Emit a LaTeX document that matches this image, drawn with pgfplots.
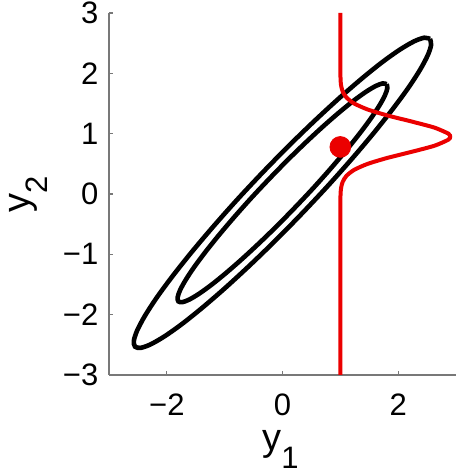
\documentclass[border=0pt]{standalone}
\usepackage{fontspec}
\setmainfont{Liberation Sans}
\usepackage{pgfplots}
\pgfplotsset{compat=1.18}
\definecolor{axgray}{RGB}{120,120,120}
\definecolor{condred}{RGB}{235,0,0}
\newcommand{\lab}[2]{{\fontsize{19}{22}\selectfont #1\raisebox{-9pt}{\fontsize{15.5}{18}\selectfont #2}}}

\begin{document}
\fontsize{15.5}{18}\selectfont
\begin{tikzpicture}
\begin{axis}[
  scale only axis,
  width=173.5pt, height=181pt,
  xmin=-3, xmax=3, ymin=-3, ymax=3,
  axis x line*=bottom, axis y line*=left,
  axis line style={axgray, line width=0.75pt, -},
  xtick={-2,0,2}, xticklabels={−2,0,2},
  ytick={-3,-2,-1,0,1,2,3}, yticklabels={−3,−2,−1,0,1,2,3},
  tick style={axgray, line width=0.6pt},
  tick align=inside, major tick length=2pt,
  xticklabel style={yshift=-4pt},
  clip=false,
  xlabel={\lab{y}{1}},
  ylabel={\lab{y}{2}},
  xlabel style={at={(axis description cs:0.494,-0.152)}, anchor=north, inner sep=0pt},
  ylabel style={at={(axis description cs:-0.231,0.5)}, anchor=center, inner sep=0pt},
]
  % outer contour
  \addplot[black, line width=2.3pt, smooth, tension=0.5] coordinates {
    (2.550,2.570)(2.452,2.590)(2.280,2.532)(2.038,2.398)(1.734,2.192)(1.379,1.919)
    (0.981,1.589)(0.553,1.211)(0.108,0.798)(-0.340,0.360)(-0.778,-0.088)(-1.191,-0.533)
    (-1.569,-0.961)(-1.899,-1.359)(-2.172,-1.714)(-2.378,-2.018)(-2.512,-2.260)(-2.570,-2.432)
    (-2.550,-2.530)(-2.452,-2.550)(-2.280,-2.492)(-2.038,-2.358)(-1.734,-2.152)(-1.379,-1.879)
    (-0.981,-1.549)(-0.553,-1.171)(-0.108,-0.758)(0.340,-0.320)(0.778,0.128)(1.191,0.573)
    (1.569,1.001)(1.899,1.399)(2.172,1.754)(2.378,2.058)(2.512,2.300)(2.570,2.472)
    (2.550,2.570)
  };
  % inner contour
  \addplot[black, line width=2.3pt, smooth, tension=0.5] coordinates {
    (1.800,1.820)(1.733,1.833)(1.612,1.790)(1.444,1.694)(1.231,1.547)(0.981,1.353)
    (0.701,1.119)(0.400,0.852)(0.085,0.559)(-0.230,0.250)(-0.539,-0.065)(-0.832,-0.380)
    (-1.099,-0.681)(-1.333,-0.961)(-1.527,-1.211)(-1.674,-1.424)(-1.770,-1.592)(-1.813,-1.713)
    (-1.800,-1.780)(-1.733,-1.793)(-1.612,-1.750)(-1.444,-1.654)(-1.231,-1.507)(-0.981,-1.313)
    (-0.701,-1.079)(-0.400,-0.812)(-0.085,-0.519)(0.230,-0.210)(0.539,0.105)(0.832,0.420)
    (1.099,0.721)(1.333,1.001)(1.527,1.251)(1.674,1.464)(1.770,1.632)(1.813,1.753)
    (1.800,1.820)
  };
  % conditional distribution at y1 = 1
  \addplot[condred, line width=2pt, smooth, tension=0.4] coordinates {
    (1.000,-3.0)(1.000,-1.0)(1.000,-0.2)(1.004,0.0)(1.013,0.1)(1.040,0.2)(1.105,0.3)
    (1.239,0.4)(1.474,0.5)(1.820,0.6)(2.238,0.7)(2.628,0.8)(2.868,0.9)(2.900,0.95)
    (2.868,1.0)(2.628,1.1)(2.238,1.2)(1.820,1.3)(1.474,1.4)(1.239,1.5)(1.105,1.6)
    (1.040,1.7)(1.013,1.8)(1.004,1.9)(1.000,2.1)(1.000,2.5)(1.000,3.0)
  };
  \addplot[only marks, mark=*, mark size=5.2pt, condred] coordinates {(1.0,0.78)};
\end{axis}
\pgfresetboundingbox
\path ([shift={(-54.5pt,-49.5pt)}]current axis.south west)
  rectangle ([shift={(174.5pt,187.5pt)}]current axis.south west);
\end{tikzpicture}
\end{document}
